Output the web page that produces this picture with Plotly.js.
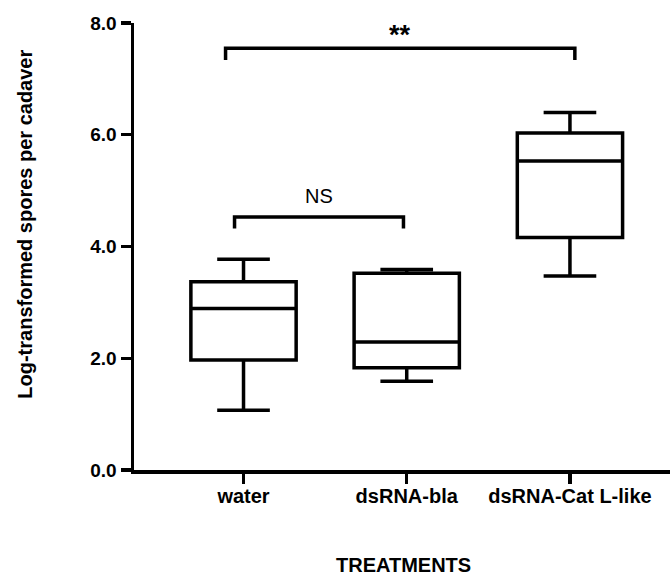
<!DOCTYPE html>
<html>
<head>
<meta charset="utf-8">
<script src="https://cdn.plot.ly/plotly-3.0.1.min.js"></script>
<style>
  html, body { margin: 0; padding: 0; background: #ffffff; }
  #chart { width: 670px; height: 576px; }
</style>
</head>
<body>
<div id="chart"></div>
<script>
// ---- Data ----
const categories = ['water', 'dsRNA-bla', 'dsRNA-Cat L-like'];
const lowerWhisker = [1.07, 1.59, 3.47];
const q1 = [1.97, 1.83, 4.16];
const median = [2.89, 2.29, 5.53];
const q3 = [3.37, 3.52, 6.03];
const upperWhisker = [3.77, 3.59, 6.40];

// significance comparisons (category indices)
const bracketFrom = [0, 0];
const bracketTo = [1, 2];
const bracketHeight = [4.53, 7.55];
const bracketLabels = ['NS', '**'];

const yTickValues = [0, 2, 4, 6, 8];
const yTickLabels = ['0.0', '2.0', '4.0', '6.0', '8.0'];

// ---- Styling ----
const FONT = 'Liberation Sans, Arial, Helvetica, sans-serif';
const bracketLeftShift = [-0.055, -0.11];
const bracketRightShift = [-0.02, 0.03];
const bracketDrop = 0.21;
const labelStyles = [
  {size: 20, weight: 'normal', yshift: 21},
  {size: 27, weight: 'bold', yshift: 13}
];

const trace = {
  type: 'box',
  x: categories,
  q1: q1,
  median: median,
  q3: q3,
  lowerfence: lowerWhisker,
  upperfence: upperWhisker,
  boxpoints: false,
  width: 0.645,
  whiskerwidth: 0.5,
  fillcolor: '#ffffff',
  line: {color: '#000000', width: 3.5},
  hoverinfo: 'skip',
  showlegend: false
};

const shapes = [];
const annotations = [];
for (let i = 0; i < bracketLabels.length; i++) {
  const x0 = bracketFrom[i] + bracketLeftShift[i];
  const x1 = bracketTo[i] + bracketRightShift[i];
  const y = bracketHeight[i];
  shapes.push({
    type: 'path', xref: 'x', yref: 'y',
    path: `M ${x0},${y - bracketDrop} L ${x0},${y} L ${x1},${y} L ${x1},${y - bracketDrop}`,
    line: {color: '#000000', width: 3.5}
  });
  annotations.push({
    xref: 'x', yref: 'y', x: (x0 + x1) / 2, y: y,
    text: bracketLabels[i], showarrow: false,
    xanchor: 'center', yanchor: 'middle', yshift: labelStyles[i].yshift,
    font: {family: FONT, size: labelStyles[i].size, color: '#000000', weight: labelStyles[i].weight}
  });
}

annotations.push({
  xref: 'paper', yref: 'paper', x: -0.205, y: 0.549,
  text: 'Log-transformed spores per cadaver', textangle: -90, showarrow: false,
  xanchor: 'center', yanchor: 'middle',
  font: {family: FONT, size: 20, color: '#000000', weight: 'bold'}
});
annotations.push({
  xref: 'paper', yref: 'paper', x: 0.502, y: -0.2125,
  text: 'TREATMENTS', showarrow: false,
  xanchor: 'center', yanchor: 'middle',
  font: {family: FONT, size: 20, color: '#000000', weight: 'bold'}
});

const layout = {
  width: 670, height: 576,
  margin: {l: 134, r: 0, t: 23, b: 106, pad: 0},
  paper_bgcolor: '#ffffff', plot_bgcolor: '#ffffff',
  showlegend: false,
  xaxis: {
    type: 'category',
    range: [-0.671, 2.613],
    showgrid: false, zeroline: false,
    showline: true, linecolor: '#000000', linewidth: 3.5,
    ticks: 'outside', ticklen: 10, tickwidth: 3.2, tickcolor: '#000000',
    ticklabelstandoff: -5,
    tickfont: {family: FONT, size: 20, color: '#000000', weight: 'bold'},
    fixedrange: true
  },
  yaxis: {
    range: [0, 8],
    tickvals: yTickValues, ticktext: yTickLabels,
    showgrid: false, zeroline: false,
    showline: true, linecolor: '#000000', linewidth: 3.5,
    ticks: 'outside', ticklen: 10, tickwidth: 3.2, tickcolor: '#000000',
    tickfont: {family: FONT, size: 19, color: '#000000', weight: 'bold'},
    fixedrange: true
  },
  shapes: shapes,
  annotations: annotations
};

Plotly.newPlot('chart', [trace], layout, {displayModeBar: false, staticPlot: true});
</script>
</body>
</html>
